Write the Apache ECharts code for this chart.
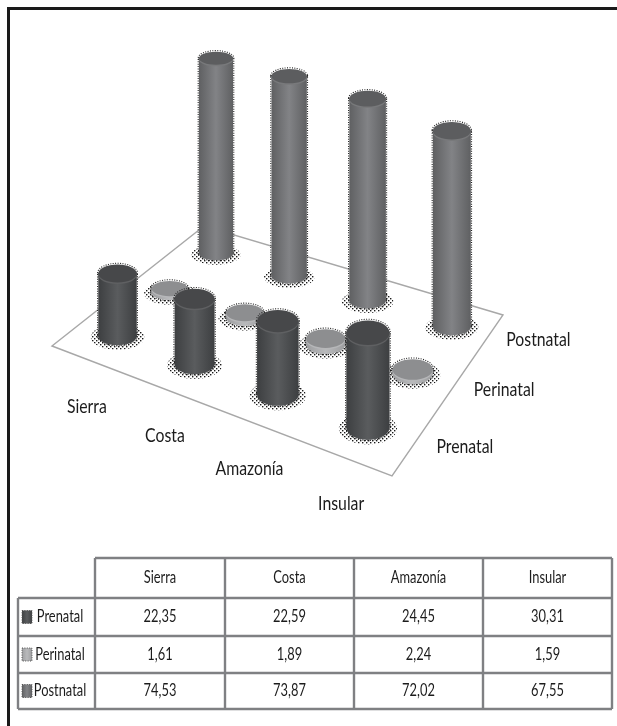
<!DOCTYPE html>
<html>
<head>
<meta charset="utf-8">
<style>html,body{margin:0;padding:0;background:#fff}#chart{width:617px;height:726px}</style>
<script src="https://cdn.jsdelivr.net/npm/echarts@6/dist/echarts.min.js"></script>
</head>
<body>
<div id="chart"></div>
<script>
// Causes by region, in percent
const regions = ['Sierra', 'Costa', 'Amazonía', 'Insular'];
const causes = ['Prenatal', 'Perinatal', 'Postnatal'];
const prenatal = [22.35, 22.59, 24.45, 30.31];
const perinatal = [1.61, 1.89, 2.24, 1.59];
const postnatal = [74.53, 73.87, 72.02, 67.55];
const valuesByCause = [prenatal, perinatal, postnatal];

const FONT = 'Lato, "Open Sans", sans-serif';
const TEXT = '#1c1c1c';
const GRID = { left: 100, top: 100, width: 400, height: 290 };

// Floor of the 3D scene: corners for (u,v) = (0,0), (1,0), (1,1), (0,1)
const FLOOR = [[52, 346], [392, 476], [503, 315], [204, 226]];

const PALETTES = [
  { edge: '#3d3f41', mid: '#5a5c5e', cap: '#47484a', rim: '#5f6062' },
  { edge: '#9c9d9f', mid: '#b9babc', cap: '#8d8e90', rim: '#b6b7b9' },
  { edge: '#5f6062', mid: '#828386', cap: '#5c5d5f', rim: '#78797b' }
];

// Perspective map from the unit floor square to the screen
const homography = (function () {
  const [p0, p1, p2, p3] = FLOOR;
  const sx = p0[0] - p1[0] + p2[0] - p3[0];
  const sy = p0[1] - p1[1] + p2[1] - p3[1];
  const dx1 = p1[0] - p2[0], dx2 = p3[0] - p2[0];
  const dy1 = p1[1] - p2[1], dy2 = p3[1] - p2[1];
  const det = dx1 * dy2 - dx2 * dy1;
  const g = (sx * dy2 - dx2 * sy) / det;
  const h = (dx1 * sy - sx * dy1) / det;
  const a = p1[0] - p0[0] + g * p1[0], b = p3[0] - p0[0] + h * p3[0];
  const d = p1[1] - p0[1] + g * p1[1], e = p3[1] - p0[1] + h * p3[1];
  return { a, b, c: p0[0], d, e, f: p0[1], g, h };
})();

function project(u, v) {
  const m = homography;
  const w = m.g * u + m.h * v + 1;
  return {
    x: (m.a * u + m.b * v + m.c) / w,
    y: (m.d * u + m.e * v + m.f) / w,
    scale: 1 / w
  };
}

// Black stipple used for the halo at the foot of each column
function stipple() {
  const c = document.createElement('canvas');
  c.width = c.height = 4;
  const g = c.getContext('2d');
  g.fillStyle = '#1a1a1a';
  g.fillRect(0, 0, 1.4, 1.4);
  g.fillRect(2, 2, 1.4, 1.4);
  return c;
}
const STIPPLE = stipple();

function columnRenderer(row) {
  const pal = PALETTES[row];
  const v = (row + 0.5) / causes.length;
  return function (params, api) {
    const base = api.coord([api.value(0), 0]);
    const top = api.coord([api.value(0), api.value(1)]);
    const u = (base[0] - GRID.left) / GRID.width;
    // Rows fan out slightly toward the far side of the floor
    const fanned = u + (u - 0.125) * v * 0.035;
    const p = project(fanned, v);
    const rx = 19.5 * p.scale;
    const ry = rx * (0.38 + (p.y - 254) * 0.0011);
    const h = (base[1] - top[1]) * Math.pow(p.scale, 0.6) * (1 + 0.05 * (u - 0.5));
    const yTop = p.y - h;
    const body = {
      type: 'linear', x: 0, y: 0, x2: 1, y2: 0,
      colorStops: [
        { offset: 0, color: pal.edge },
        { offset: 0.5, color: pal.mid },
        { offset: 1, color: pal.edge }
      ]
    };
    const ell = (cx, cy, a, b, style) => ({
      type: 'ellipse', silent: true, shape: { cx, cy, rx: a, ry: b }, style
    });
    const dash = { fill: null, stroke: '#222', lineWidth: 1.1, lineDash: [1, 1.4] };
    return {
      type: 'group',
      children: [
        ell(p.x, p.y + 1, rx + 7.5, ry + 3.5, { fill: { image: STIPPLE, repeat: 'repeat' } }),
        ell(p.x, p.y, rx + 0.7, ry + 0.7, dash),
        ell(p.x, yTop, rx + 0.7, ry + 0.7, dash),
        {
          type: 'rect', silent: true,
          shape: { x: p.x - rx - 0.7, y: yTop, width: 2 * rx + 1.4, height: h },
          style: dash
        },
        ell(p.x, p.y, rx, ry, { fill: body }),
        {
          type: 'rect', silent: true,
          shape: { x: p.x - rx, y: yTop, width: 2 * rx, height: h },
          style: { fill: body }
        },
        ell(p.x, yTop + 2, rx, ry, { fill: pal.rim }),
        ell(p.x, yTop + 0.5, rx, ry, { fill: pal.cap })
      ]
    };
  };
}

// Columns are painted from the back row forward
const series = [2, 1, 0].map(function (row) {
  return {
    type: 'custom',
    name: causes[row],
    coordinateSystem: 'cartesian2d',
    encode: { x: 0, y: 1 },
    clip: false,
    silent: true,
    renderItem: columnRenderer(row),
    data: regions.map((r, i) => [r, valuesByCause[row][i]])
  };
});

function label(text, x, y, size, squeeze) {
  return {
    type: 'text', silent: true, x, y, scaleX: squeeze,
    style: { text, x: 0, y: 0, fill: TEXT, font: size + 'px ' + FONT, align: 'center', verticalAlign: 'middle' }
  };
}

const graphics = [];

// Outer frame: top and left rules only
graphics.push({ type: 'rect', silent: true, shape: { x: 7, y: 7, width: 610, height: 3 }, style: { fill: '#1a1a1a' } });
graphics.push({ type: 'rect', silent: true, shape: { x: 7, y: 7, width: 3, height: 719 }, style: { fill: '#1a1a1a' } });

// Floor outline
graphics.push({
  type: 'polygon', silent: true,
  shape: { points: FLOOR },
  style: { fill: '#fff', stroke: '#a8a8a8', lineWidth: 1.4 }
});

// Labels along the floor edges
regions.forEach(function (r, i) {
  const p = project((i + 0.5) / regions.length, 0);
  graphics.push(label(r, p.x - 2, p.y + 46, 20, 0.79));
});
causes.forEach(function (c, i) {
  const p = project(1, (i + 0.5) / causes.length);
  graphics.push(label(c, p.x + 51, p.y + 2, 20, 0.79));
});

// Data table
const colX = [95, 225, 354, 483, 612];
const rowY = [558, 598, 636, 673, 709];
const TABLE_LEFT = 18;
const LINE = '#7f8083';
function rule(x1, y1, x2, y2) {
  return { type: 'line', silent: true, shape: { x1, y1, x2, y2 }, style: { stroke: LINE, lineWidth: 2.4 } };
}
graphics.push(rule(colX[0], rowY[0], colX[4], rowY[0]));
rowY.slice(1).forEach(y => graphics.push(rule(TABLE_LEFT, y, colX[4], y)));
colX.forEach(x => graphics.push(rule(x, rowY[0], x, rowY[4])));
graphics.push(rule(TABLE_LEFT, rowY[1], TABLE_LEFT, rowY[4]));

regions.forEach(function (r, i) {
  graphics.push(label(r, (colX[i] + colX[i + 1]) / 2, (rowY[0] + rowY[1]) / 2, 16.5, 0.78));
});
causes.forEach(function (c, row) {
  const cy = (rowY[row + 1] + rowY[row + 2]) / 2;
  const pal = PALETTES[row];
  graphics.push({
    type: 'rect', silent: true,
    shape: { x: 22, y: cy - 6.5, width: 10, height: 13 },
    style: {
      fill: { type: 'linear', x: 0, y: 0, x2: 1, y2: 0, colorStops: [
        { offset: 0, color: pal.edge }, { offset: 0.5, color: pal.mid }, { offset: 1, color: pal.edge }
      ] },
      stroke: '#555', lineWidth: 1, lineDash: [1, 1.4]
    }
  });
  graphics.push(label(c, 60, cy, 16.5, 0.78));
  valuesByCause[row].forEach(function (val, i) {
    graphics.push(label(val.toFixed(2).replace('.', ','), (colX[i] + colX[i + 1]) / 2, cy, 16.5, 0.78));
  });
});

const chart = echarts.init(document.getElementById('chart'), null, { renderer: 'canvas' });
chart.setOption({
  animation: false,
  backgroundColor: '#fff',
  tooltip: { show: false },
  grid: GRID,
  xAxis: { type: 'category', data: regions, show: false },
  yAxis: { type: 'value', min: 0, max: 100, show: false },
  graphic: { elements: graphics },
  series: series
});
</script>
</body>
</html>
